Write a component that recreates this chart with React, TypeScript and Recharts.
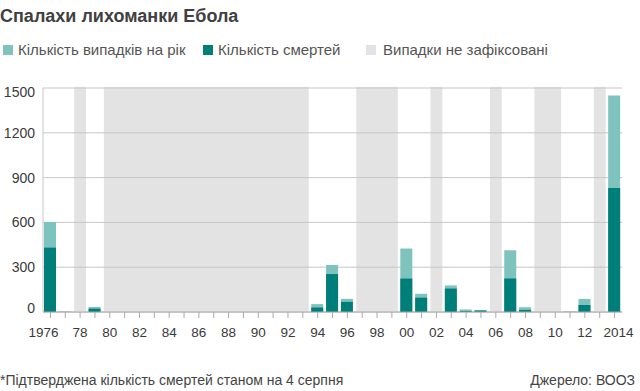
import React from 'react';
import { BarChart, Bar, XAxis, YAxis, CartesianGrid, ReferenceArea } from 'recharts';

const years = [
  1976, 1977, 1978, 1979, 1980, 1981, 1982, 1983, 1984, 1985, 1986, 1987, 1988,
  1989, 1990, 1991, 1992, 1993, 1994, 1995, 1996, 1997, 1998, 1999, 2000, 2001,
  2002, 2003, 2004, 2005, 2006, 2007, 2008, 2009, 2010, 2011, 2012, 2013, 2014,
];

const yearLabels = [
  '1976', '', '78', '', '80', '', '82', '', '84', '', '86', '', '88',
  '', '90', '', '92', '', '94', '', '96', '', '98', '', '00', '',
  '02', '', '04', '', '06', '', '08', '', '10', '', '12', '', '2014',
];

const cases = [
  602, 1, null, 34, null, null, null, null, null, null, null, null, null,
  null, null, null, null, null, 53, 315, 88, null, null, null, 425, 122,
  null, 178, 17, 12, null, 413, 32, null, null, 1, 87, null, 1450,
];

const deaths = [
  431, 1, null, 22, null, null, null, null, null, null, null, null, null,
  null, null, null, null, null, 30, 254, 68, null, null, null, 224, 96,
  null, 157, 7, 10, null, 224, 14, null, null, 1, 47, null, 830,
];

const noDataRanges: [number, number][] = [
  [1978, 1978], [1980, 1993], [1997, 1999], [2002, 2002], [2006, 2006], [2009, 2010], [2013, 2013],
];

const yTicks = [0, 300, 600, 900, 1200, 1500];
const yMax = yTicks[yTicks.length - 1];

const title = 'Спалахи лихоманки Ебола';
const legendItems = [
  { label: 'Кількість випадків на рік', color: '#7fc3be' },
  { label: 'Кількість смертей', color: '#007f7a' },
  { label: 'Випадки не зафіксовані', color: '#e3e3e3' },
];
const footnote = '*Підтверджена кількість смертей станом на 4 серпня';
const source = 'Джерело: ВООЗ';

const data = years.map((y, i) => ({ year: y, cases: cases[i], deaths: deaths[i] }));

const FONT = '"Liberation Sans", Arial, Helvetica, sans-serif';
const GRID = '#c6c6c6';
const GRAY = '#e3e3e3';

const XTick = (props: any) => {
  const { x, y, payload } = props;
  const idx = years.indexOf(payload.value);
  const label = idx >= 0 ? yearLabels[idx] : '';
  const dx = idx === 0 ? -7 : idx === years.length - 1 ? 4 : 0;
  return (
    <text x={x + dx} y={y} dy="0.71em" textAnchor="middle" fill="#3a3a3a" fontSize={13.5} fontFamily={FONT}>
      {label}
    </text>
  );
};

const YTick = (props: any) => {
  const { x, y, payload } = props;
  const v = payload.value;
  const shift = v === yTicks[0] ? -4 : v === yMax ? 4 : 0;
  return (
    <text x={x} y={y + shift} dy="0.36em" textAnchor="end" fill="#3a3a3a" fontSize={14} fontFamily={FONT}>
      {v}
    </text>
  );
};

// gray band with the grid lines redrawn on top of it
const BandShape = (props: any) => {
  const { x, y, width, height } = props;
  return (
    <g>
      <rect x={x} y={y} width={width} height={height} fill={GRAY} stroke="none" />
      {yTicks.slice(1).map((t) => {
        const ly = y + height * (1 - t / yMax);
        return <line key={t} x1={x} x2={x + width} y1={ly} y2={ly} stroke={GRID} strokeWidth={1} />;
      })}
    </g>
  );
};

const legendLefts = [3, 203, 366];

export default function App() {
  return (
    <div style={{ position: 'absolute', left: 0, top: 0, width: 640, height: 391, background: '#fff', fontFamily: FONT, overflow: 'hidden' }}>
      <div style={{ position: 'absolute', left: 0, top: 5, fontSize: 18, fontWeight: 'bold', color: '#404040', lineHeight: '22px', whiteSpace: 'nowrap' }}>
        {title}
      </div>
      {legendItems.map((it, i) => (
        <div key={it.label} style={{ position: 'absolute', left: legendLefts[i], top: 41, height: 18, display: 'flex', alignItems: 'center', whiteSpace: 'nowrap' }}>
          <span style={{ display: 'inline-block', width: 10, height: 10, background: it.color, marginRight: i === 2 ? 7 : 5 }} />
          <span style={{ fontSize: 15, color: '#555', lineHeight: '18px' }}>{it.label}</span>
        </div>
      ))}
      <div style={{ position: 'absolute', left: 0, top: 371, fontSize: 14, color: '#444', lineHeight: '18px', whiteSpace: 'nowrap' }}>
        {footnote}
      </div>
      <div style={{ position: 'absolute', right: 5, top: 371, fontSize: 14, color: '#444', lineHeight: '18px', whiteSpace: 'nowrap' }}>
        {source}
      </div>
      <div style={{ position: 'absolute', left: 0, top: 0 }}>
        <BarChart
          width={640}
          height={391}
          data={data}
          margin={{ top: 88, right: 18, bottom: 49, left: 0 }}
          barSize={12}
          barGap={-12}
        >
          {noDataRanges.map(([a, b]) => (
            <ReferenceArea
              key={a}
              x1={a - 0.4}
              x2={b + 0.4}
              y1={0}
              y2={yMax}
              fill={GRAY}
              fillOpacity={1}
              stroke="none"
              shape={<BandShape />}
            />
          ))}
          <CartesianGrid vertical={false} stroke={GRID} />
          <XAxis
            dataKey="year"
            type="number"
            scale="linear"
            domain={[1975.5, 2014.5]}
            allowDataOverflow
            ticks={years}
            interval={0}
            tick={<XTick />}
            tickMargin={9}
            tickSize={6}
            tickLine={{ stroke: '#aaa' }}
            axisLine={{ stroke: '#a8a8a8' }}
          />
          <YAxis
            width={43}
            domain={[0, yMax]}
            ticks={yTicks}
            tick={<YTick />}
            tickLine={false}
            axisLine={{ stroke: GRID }}
          />
          <YAxis
            yAxisId="r"
            orientation="right"
            width={0}
            domain={[0, yMax]}
            ticks={yTicks}
            tick={false}
            tickLine={false}
            axisLine={{ stroke: GRID }}
          />
          <Bar dataKey="cases" fill={legendItems[0].color} isAnimationActive={false} />
          <Bar dataKey="deaths" fill={legendItems[1].color} isAnimationActive={false} />
        </BarChart>
      </div>
    </div>
  );
}
